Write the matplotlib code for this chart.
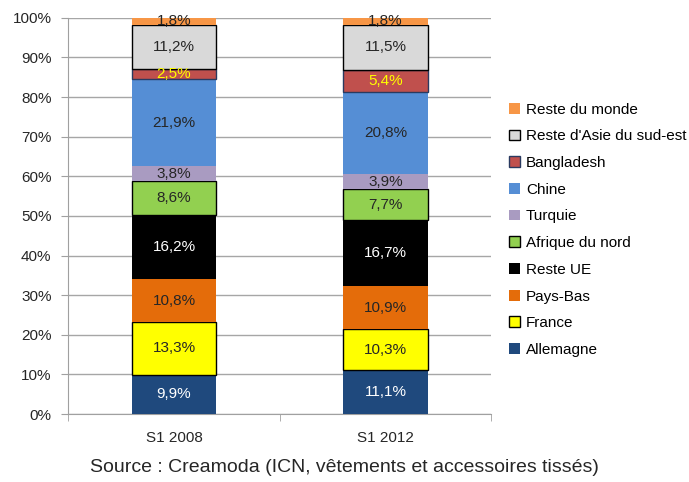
import numpy as np
import matplotlib.pyplot as plt
from matplotlib import font_manager

# --- Schrift ---
names = {f.name for f in font_manager.fontManager.ttflist}
fam = ['Liberation Sans Narrow', 'Liberation Sans', 'DejaVu Sans']
plt.rcParams['font.family'] = [f for f in fam if f in names] + ['DejaVu Sans']

# --- Daten ---
categories = ["S1 2008", "S1 2012"]
series = ["Allemagne", "France", "Pays-Bas", "Reste UE", "Afrique du nord",
          "Turquie", "Chine", "Bangladesh", "Reste d'Asie du sud-est", "Reste du monde"]
allemagne = [9.9, 11.1]
france = [13.3, 10.3]
pays_bas = [10.8, 10.9]
reste_ue = [16.2, 16.7]
afrique_nord = [8.6, 7.7]
turquie = [3.8, 3.9]
chine = [21.9, 20.8]
bangladesh = [2.5, 5.4]
reste_asie = [11.2, 11.5]
reste_monde = [1.8, 1.8]
values = [allemagne, france, pays_bas, reste_ue, afrique_nord,
          turquie, chine, bangladesh, reste_asie, reste_monde]

colors = ["#1F497D", "#FFFF00", "#E46C0A", "#000000", "#92D050",
          "#A99BC1", "#558ED5", "#C0504D", "#D9D9D9", "#F79646"]
edges = ["none", "black", "none", "none", "black",
         "none", "none", "#2A3A60", "black", "none"]
label_colors = ["white", "#262626", "#262626", "white", "#262626",
                "#262626", "#262626", "#FFFF00", "#262626", "#262626"]

# --- Plot ---
fig = plt.figure(figsize=(6.89, 4.82), dpi=100)
ax = fig.add_axes([0.099, 0.141, 0.614, 0.822])

x = np.arange(len(categories))
bottom = np.zeros(len(categories))
handles = []
for name, vals, c, ec, lc in zip(series, values, colors, edges, label_colors):
    vals = np.array(vals)
    b = ax.bar(x, vals, 0.4, bottom=bottom, color=c,
               edgecolor=ec, linewidth=1.0 if ec != "none" else 0, label=name, zorder=3)
    handles.append(b)
    for xi, v, bo in zip(x, vals, bottom):
        ax.text(xi, bo + v / 2, f"{v:.1f}%".replace(".", ","), ha="center", va="center",
                color=lc, fontsize=11, zorder=4)
    bottom += vals

ax.set_xlim(-0.5, 1.5)
ax.set_ylim(0, 100)
ax.set_yticks(np.arange(0, 101, 10))
ax.set_yticklabels([f"{t}%" for t in range(0, 101, 10)], fontsize=11, color="#262626")
ax.set_xticks(x)
ax.set_xticklabels(categories, fontsize=11, color="#262626")
ax.set_xticks([-0.5, 0.5, 1.5], minor=True)
ax.tick_params(axis="x", which="major", length=0, pad=12)
ax.tick_params(axis="x", which="minor", length=5, color="#A0A0A0")
ax.tick_params(axis="y", length=5, color="#A0A0A0", pad=7)
ax.grid(axis="y", color="#A6A6A6", linewidth=1, zorder=0)
for s in ["top", "right"]:
    ax.spines[s].set_visible(False)
for s in ["left", "bottom"]:
    ax.spines[s].set_color("#A0A0A0")

leg = ax.legend(handles[::-1], series[::-1], loc="center left", bbox_to_anchor=(1.01, 0.465),
                frameon=False, fontsize=11, handlelength=0.7, handleheight=0.7,
                handletextpad=0.4, labelspacing=0.83)

fig.text(0.5, 0.03, "Source : Creamoda (ICN, vêtements et accessoires tissés)",
         ha="center", va="center", fontsize=14, color="#262626")

plt.savefig("out.png", dpi=100)
